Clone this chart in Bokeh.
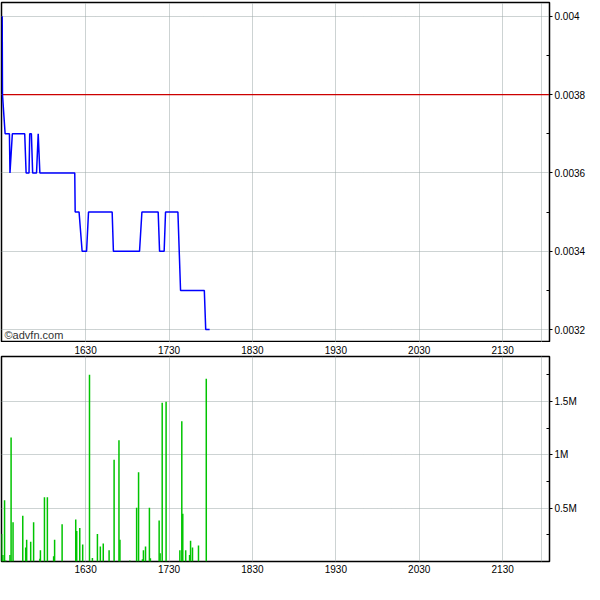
from bokeh.plotting import figure
from bokeh.models import FixedTicker, LinearAxis, Range1d, Label
from bokeh.layouts import column
from bokeh.embed import file_html
from bokeh.resources import INLINE

# ---- data (times in minutes since midnight) ----
price_time = [930.0, 930.2, 932.1, 935.2, 935.6, 937.3, 946.2, 947.2, 949.3, 949.8,
              951.0, 951.9, 954.7, 955.9, 957.1, 982.2, 982.5, 985.3, 987.5, 990.7,
              992.1, 1009.1, 1010.0, 1028.8, 1030.5, 1042.2, 1043.2, 1046.5, 1047.5,
              1056.4, 1058.3, 1075.4, 1076.4, 1079.2]
price = [0.0040, 0.0038, 0.0037, 0.0037, 0.0036, 0.0037, 0.0037, 0.0036, 0.0036, 0.0037,
         0.0037, 0.0036, 0.0036, 0.0037, 0.0036, 0.0036, 0.0035, 0.0035, 0.0034, 0.0034,
         0.0035, 0.0035, 0.0034, 0.0034, 0.0035, 0.0035, 0.0034, 0.0034, 0.0035,
         0.0035, 0.0033, 0.0033, 0.0032, 0.0032]

vol_time = [929.6, 930.5, 931.7, 932.6, 935.6, 936.4, 937.8, 944.8, 946.9, 947.6,
            950.5, 952.6, 957.1, 957.5, 960.4, 962.5, 967.0, 967.7, 973.1, 982.9,
            983.6, 985.8, 987.9, 992.8, 994.9, 998.5, 1000.6, 1002.7, 1006.9, 1010.5,
            1014.0, 1014.7, 1021.8, 1026.7, 1028.1, 1030.9, 1031.6, 1033.1, 1035.9, 1036.6,
            1042.9, 1043.6, 1045.1, 1047.9, 1057.8, 1059.2, 1059.9, 1062.0, 1064.8, 1065.5,
            1066.9, 1071.2, 1076.8]
volume = [259000, 60000, 575000, 10000, 60000, 1163000, 367000, 430000, 132000, 204000,
          186000, 367000, 25000, 105000, 602000, 602000, 50000, 204000, 349000, 394000,
          286000, 313000, 159000, 1751000, 33000, 259000, 141000, 168000, 105000, 955000,
          1136000, 204000, 10000, 503000, 837000, 20000, 105000, 141000, 503000, 30000,
          385000, 78000, 1488000, 1497000, 105000, 1316000, 448000, 105000, 60000, 195000,
          132000, 150000, 1714000]

time_ticks = [990, 1050, 1110, 1170, 1230, 1290]
time_labels = ["1630", "1730", "1830", "1930", "2030", "2130"]
session_end = 1318

price_ticks = [0.0032, 0.0034, 0.0036, 0.0038, 0.004]
price_labels = ["0.0032", "0.0034", "0.0036", "0.0038", "0.004"]
price_minor = [0.0033, 0.0035, 0.0037, 0.0039]
prev_close = 0.0038

vol_ticks = [500000, 1000000, 1500000]
vol_labels = ["0.5M", "1M", "1.5M"]
vol_minor = [250000, 750000, 1250000, 1750000]

FONT = "Liberation Sans"
GRID = "#9aa6a6"
FW = 548

x_range = Range1d(929.5, 1323.7)


def style_yaxis(ax, ticks, labels, minor):
    ax.ticker = FixedTicker(ticks=ticks, minor_ticks=minor)
    ax.major_label_overrides = {t: l for t, l in zip(ticks, labels)}
    ax.major_label_text_font = FONT
    ax.major_label_text_font_size = "10px"
    ax.major_label_text_color = "black"
    ax.major_tick_out = 3
    ax.major_tick_in = 0
    ax.minor_tick_in = 3
    ax.minor_tick_out = 0
    ax.axis_line_color = "black"
    ax.major_label_standoff = 2


def style_xaxis(ax):
    ax.ticker = FixedTicker(ticks=time_ticks)
    ax.major_label_overrides = {t: l for t, l in zip(time_ticks, time_labels)}
    ax.major_label_text_font = FONT
    ax.major_label_text_font_size = "10px"
    ax.major_label_text_color = "black"
    ax.major_tick_out = 0
    ax.major_tick_in = 0
    ax.minor_tick_out = 0
    ax.minor_tick_in = 0
    ax.axis_line_color = None
    ax.major_label_standoff = 3


def style_grid(p):
    p.xgrid.ticker = FixedTicker(ticks=time_ticks + [session_end])
    for g in (p.xgrid, p.ygrid):
        g.grid_line_color = GRID
        g.grid_line_dash = "1 1"
        g.grid_line_width = 1


# ---- price panel ----
p1 = figure(frame_width=FW, frame_height=340, x_range=x_range,
            y_range=Range1d(0.003167, 0.004035), y_axis_location="right",
            output_backend="svg", toolbar_location=None,
            min_border_left=1, min_border_top=2, min_border_bottom=0, min_border_right=36,
            outline_line_color="black", outline_line_width=1.5)
p1.xaxis.visible = False
style_yaxis(p1.yaxis[0], price_ticks, price_labels, price_minor)
style_grid(p1)

p1.line(x=[x_range.start, x_range.end], y=[prev_close, prev_close],
        line_color="#cc0000", line_width=1.2)
p1.line(price_time, price, line_color="#0000ff", line_width=1.5)
p1.add_layout(Label(x=3, y=2, x_units="screen", y_units="screen", text="©advfn.com",
                    text_font=FONT, text_font_size="11px", text_color="#333333"))

# ---- volume panel ----
p2 = figure(frame_width=FW, frame_height=205, x_range=x_range,
            y_range=Range1d(0, 1922000), y_axis_location="right",
            output_backend="svg", toolbar_location=None,
            min_border_left=1, min_border_top=0, min_border_bottom=0, min_border_right=36,
            outline_line_color="black", outline_line_width=1.5)
style_yaxis(p2.yaxis[0], vol_ticks, vol_labels, vol_minor)
style_xaxis(p2.xaxis[0])
top_axis = LinearAxis()
style_xaxis(top_axis)
p2.add_layout(top_axis, "above")
style_grid(p2)

p2.segment(x0=vol_time, y0=[0] * len(vol_time), x1=vol_time, y1=volume,
           line_color="#00c400", line_width=1.5)

layout = column(p1, p2, spacing=0)
open("out.html", "w").write(file_html(layout, INLINE))
